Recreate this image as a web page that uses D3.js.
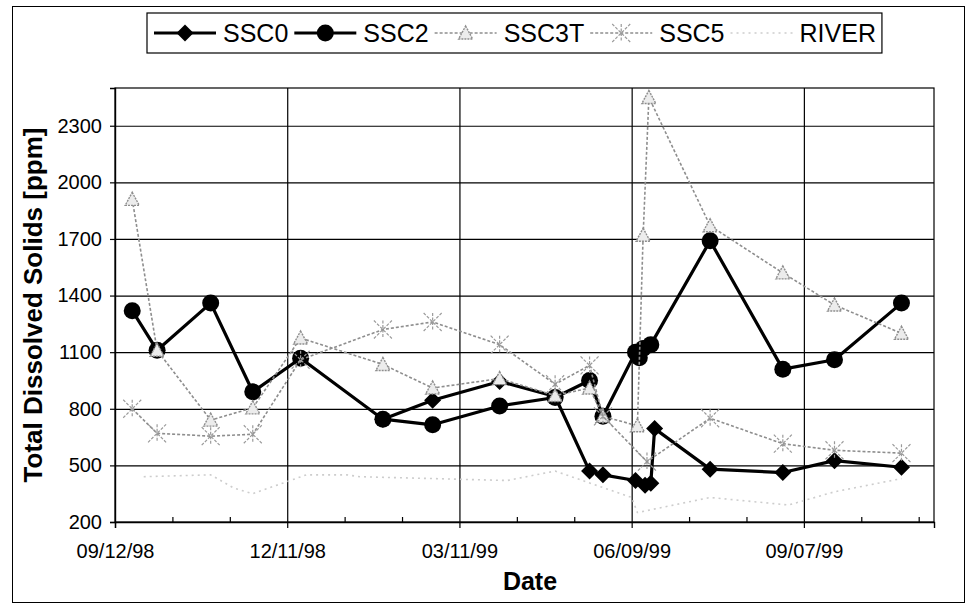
<!DOCTYPE html>
<html>
<head>
<meta charset="utf-8">
<script src="https://cdn.jsdelivr.net/npm/d3@7"></script>
<style>
  body { margin: 0; background: #fff; }
  svg { display: block; }
  text { font-family: "Liberation Sans", Arial, sans-serif; fill: #000; }
</style>
</head>
<body>
<svg id="chart" width="969" height="610"></svg>
<script>
// ---- data -------------------------------------------------------------
const xTickLabels = ["09/12/98", "12/11/98", "03/11/99", "06/09/99", "09/07/99"];
const yTickValues = [200, 500, 800, 1100, 1400, 1700, 2000, 2300];
const seriesNames = ["SSC0", "SSC2", "SSC3T", "SSC5", "RIVER"];

const ssc0Dates  = ["01/30/99", "02/25/99", "04/01/99", "04/30/99", "05/18/99", "05/25/99",
                    "06/11/99", "06/16/99", "06/19/99", "06/21/99", "07/20/99", "08/27/99",
                    "09/23/99", "10/28/99"];
const ssc0Values = [745, 845, 945, 865, 470, 450, 420, 395, 405, 695, 480, 462, 525, 490];

const ssc2Dates  = ["09/21/98", "10/04/98", "11/01/98", "11/23/98", "12/18/98", "01/30/99",
                    "02/25/99", "04/01/99", "04/30/99", "05/18/99", "05/25/99", "06/11/99",
                    "06/13/99", "06/15/99", "06/19/99", "07/20/99", "08/27/99", "09/23/99",
                    "10/28/99"];
const ssc2Values = [1320, 1110, 1360, 890, 1068, 745, 715, 815, 860, 950, 760, 1100,
                    1070, 1120, 1140, 1690, 1010, 1060, 1360];

const ssc3tDates  = ["09/21/98", "10/04/98", "11/01/98", "11/23/98", "12/18/98", "01/30/99",
                     "02/25/99", "04/01/99", "04/30/99", "05/18/99", "05/25/99", "06/12/99",
                     "06/15/99", "06/18/99", "07/20/99", "08/27/99", "09/23/99", "10/28/99"];
const ssc3tValues = [1910, 1110, 740, 805, 1175, 1035, 910, 960, 870, 910, 760, 710,
                     1720, 2450, 1770, 1520, 1350, 1200];

const ssc5Dates  = ["09/21/98", "10/04/98", "11/01/98", "11/23/98", "12/18/98", "01/30/99",
                    "02/25/99", "04/01/99", "04/30/99", "05/18/99", "05/25/99", "06/17/99",
                    "07/20/99", "08/27/99", "09/23/99", "10/28/99"];
const ssc5Values = [800, 670, 655, 665, 1060, 1220, 1260, 1140, 930, 1030, 760, 520,
                    750, 615, 580, 565];

const riverDates  = ["09/27/98", "11/01/98", "11/13/98", "11/23/98", "12/21/98", "01/11/99",
                     "01/18/99", "04/05/99", "04/30/99", "06/09/99", "06/12/99", "07/20/99",
                     "08/30/99", "09/23/99", "10/28/99"];
const riverValues = [440, 450, 380, 350, 450, 450, 440, 420, 470, 330, 250, 330, 290, 360, 430];

// ---- setup ------------------------------------------------------------
const parse = d3.timeParse("%m/%d/%y");
const fmt = d3.timeFormat("%m/%d/%y");
const svg = d3.select("#chart");

const plot = { left: 115, right: 934, top: 88, bottom: 522 };

const x = d3.scaleTime()
  .domain([parse("09/12/98"), parse("11/14/99")])
  .range([plot.left, plot.right]);
const y = d3.scaleLinear()
  .domain([200, 2500])
  .range([plot.bottom, plot.top]);

const zip = (dates, vals) => dates.map((d, i) => ({ date: parse(d), value: vals[i] }));

const series = [
  { name: seriesNames[0], data: zip(ssc0Dates, ssc0Values), stroke: "#000", width: 3.2, dash: null, marker: "diamond" },
  { name: seriesNames[1], data: zip(ssc2Dates, ssc2Values), stroke: "#000", width: 3.2, dash: null, marker: "circle" },
  { name: seriesNames[2], data: zip(ssc3tDates, ssc3tValues), stroke: "#8e8e8e", width: 1.6, dash: "3,2", marker: "triangle" },
  { name: seriesNames[3], data: zip(ssc5Dates, ssc5Values), stroke: "#8e8e8e", width: 1.6, dash: "3,2", marker: "star" },
  { name: seriesNames[4], data: zip(riverDates, riverValues), stroke: "#cdcdcd", width: 1.6, dash: "2,4", marker: null }
];

// ---- chart frame --------------------------------------------------------
svg.append("rect").attr("width", 969).attr("height", 610).attr("fill", "#fff");
svg.append("rect")
  .attr("x", 12.5).attr("y", 6.5).attr("width", 952).attr("height", 596)
  .attr("fill", "none").attr("stroke", "#000").attr("stroke-width", 1);

// plot area border
svg.append("rect")
  .attr("x", plot.left).attr("y", plot.top)
  .attr("width", plot.right - plot.left).attr("height", plot.bottom - plot.top)
  .attr("fill", "none").attr("stroke", "#000").attr("stroke-width", 1.2);

// horizontal gridlines
svg.append("g")
  .attr("transform", `translate(${plot.left},0)`)
  .call(d3.axisLeft(y).tickValues(yTickValues.slice(1)).tickSize(-(plot.right - plot.left)).tickFormat(""))
  .call(g => g.select(".domain").remove())
  .call(g => g.selectAll("line").attr("stroke", "#000").attr("stroke-width", 1.2));

// vertical gridlines at the labelled dates
svg.append("g")
  .attr("transform", `translate(0,${plot.bottom})`)
  .call(d3.axisBottom(x).tickValues(xTickLabels.slice(1).map(parse)).tickSize(-(plot.bottom - plot.top)).tickFormat(""))
  .call(g => g.select(".domain").remove())
  .call(g => g.selectAll("line").attr("stroke", "#000").attr("stroke-width", 1.2));

// minor x ticks every 30 days, pointing inward
const minorDates = d3.range(1, 15).map(k => d3.timeDay.offset(parse("09/12/98"), k * 30))
  .filter(d => x(d) < plot.right - 2 && (d3.timeDay.count(parse("09/12/98"), d) % 90 !== 0));
svg.append("g")
  .attr("transform", `translate(0,${plot.bottom})`)
  .call(d3.axisBottom(x).tickValues(minorDates).tickSize(-5).tickFormat(""))
  .call(g => g.select(".domain").remove())
  .call(g => g.selectAll("line").attr("stroke", "#000").attr("stroke-width", 1.2));

// y axis
svg.append("g")
  .attr("transform", `translate(${plot.left},0)`)
  .call(d3.axisLeft(y).tickValues(yTickValues).tickFormat(d3.format("d")).tickSize(5).tickPadding(8))
  .call(g => g.select(".domain").attr("stroke", "#000").attr("stroke-width", 1.4))
  .call(g => g.selectAll("line").attr("stroke", "#000").attr("stroke-width", 1.2))
  .call(g => g.selectAll("text").attr("font-size", 20).attr("font-family", "Liberation Sans, Arial, sans-serif"));

// x axis
svg.append("g")
  .attr("transform", `translate(0,${plot.bottom})`)
  .call(d3.axisBottom(x).tickValues(xTickLabels.map(parse)).tickFormat(fmt).tickSize(6).tickPadding(16))
  .call(g => g.select(".domain").attr("stroke", "#000").attr("stroke-width", 1.4))
  .call(g => g.selectAll("line").attr("stroke", "#000").attr("stroke-width", 1.2))
  .call(g => g.selectAll("text").attr("font-size", 20).attr("font-family", "Liberation Sans, Arial, sans-serif"));

// axis titles
svg.append("text")
  .attr("transform", "translate(33,305) rotate(-90)")
  .attr("text-anchor", "middle").attr("dy", "0.35em")
  .attr("font-size", 26).attr("font-weight", "bold")
  .text("Total Dissolved Solids [ppm]");
svg.append("text")
  .attr("x", 530).attr("y", 590)
  .attr("text-anchor", "middle")
  .attr("font-size", 25).attr("font-weight", "bold")
  .text("Date");

// ---- markers --------------------------------------------------------------
function drawMarker(g, type, cx, cy) {
  if (type === "diamond") {
    g.append("path")
      .attr("d", `M${cx},${cy - 8.5}L${cx + 8.5},${cy}L${cx},${cy + 8.5}L${cx - 8.5},${cy}Z`)
      .attr("fill", "#000");
  } else if (type === "circle") {
    g.append("circle").attr("cx", cx).attr("cy", cy).attr("r", 8.5).attr("fill", "#000");
  } else if (type === "triangle") {
    g.append("path")
      .attr("d", `M${cx},${cy - 7}L${cx + 7},${cy + 6}L${cx - 7},${cy + 6}Z`)
      .attr("fill", "#ececec").attr("stroke", "#8e8e8e").attr("stroke-width", 1.4)
      .attr("stroke-dasharray", "2,1");
  } else if (type === "star") {
    const r = 9;
    g.append("path")
      .attr("d", `M${cx - r},${cy - r}L${cx + r},${cy + r}M${cx - r},${cy + r}L${cx + r},${cy - r}M${cx},${cy - r}L${cx},${cy + r}`)
      .attr("fill", "none").attr("stroke", "#9a9a9a").attr("stroke-width", 1.2)
      .attr("stroke-dasharray", "3,1.5");
  }
}

// ---- series ---------------------------------------------------------------
const line = d3.line().x(d => x(d.date)).y(d => y(d.value));
series.forEach(s => {
  const g = svg.append("g").attr("class", "series");
  g.append("path")
    .datum(s.data)
    .attr("d", line)
    .attr("fill", "none")
    .attr("stroke", s.stroke)
    .attr("stroke-width", s.width)
    .attr("stroke-linejoin", "round")
    .attr("stroke-dasharray", s.dash);
  if (s.marker) s.data.forEach(d => drawMarker(g, s.marker, x(d.date), y(d.value)));
});

// ---- legend ---------------------------------------------------------------
const legend = svg.append("g").attr("class", "legend");
const legLeft = 147;
const legBox = legend.append("rect")
  .attr("x", legLeft).attr("y", 13).attr("height", 40)
  .attr("fill", "#fff").attr("stroke", "#000").attr("stroke-width", 1.2);
let cursor = legLeft + 7;
const legY = 33;
series.forEach(s => {
  const g = legend.append("g");
  g.append("line")
    .attr("x1", cursor).attr("x2", cursor + 62)
    .attr("y1", legY).attr("y2", legY)
    .attr("stroke", s.stroke).attr("stroke-width", s.width)
    .attr("stroke-dasharray", s.dash);
  if (s.marker) drawMarker(g, s.marker, cursor + 31, legY);
  const t = g.append("text")
    .attr("x", cursor + 69).attr("y", legY).attr("dy", "0.36em")
    .attr("font-size", 25)
    .text(s.name);
  cursor += 69 + t.node().getComputedTextLength() + 6;
});
legBox.attr("width", cursor - legLeft);
</script>
</body>
</html>
